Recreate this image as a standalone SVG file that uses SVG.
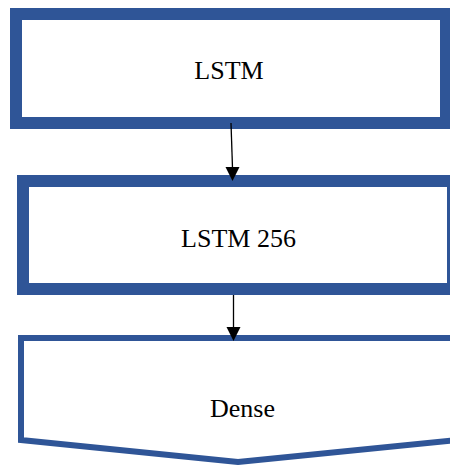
<svg xmlns="http://www.w3.org/2000/svg" width="450" height="465" viewBox="0 0 450 465">
  <defs>
    <style>
      .box { fill: #ffffff; stroke: #2F5597; }
      .lbl { font-family: "Liberation Serif", "Times New Roman", serif; font-size: 26px; fill: #000000; text-anchor: middle; }
      .conn { stroke: #000000; stroke-width: 1.3; fill: none; }
      .head { fill: #000000; }
    </style>
  </defs>
  <rect width="450" height="465" fill="#ffffff"/>
  <g id="node-lstm">
    <rect class="box" x="16" y="14" width="430" height="109" stroke-width="12"/>
    <text class="lbl" x="229" y="79">LSTM</text>
  </g>
  <g id="node-lstm256">
    <rect class="box" x="23" y="181" width="430" height="108" stroke-width="12"/>
    <text class="lbl" x="238.5" y="247">LSTM 256</text>
  </g>
  <g id="node-dense">
    <path class="box" d="M21 338 L458 338 L458 440 L238 462 L21 440 Z" stroke-width="6" stroke-linejoin="miter"/>
    <text class="lbl" x="242.5" y="417">Dense</text>
  </g>
  <g id="connectors">
    <line class="conn" x1="231" y1="123" x2="232.5" y2="168"/>
    <polygon class="head" points="225.5,167 239.5,167 232.5,181"/>
    <line class="conn" x1="233.5" y1="295" x2="233.5" y2="328"/>
    <polygon class="head" points="226.5,327 240.5,327 233.5,341"/>
  </g>
</svg>
